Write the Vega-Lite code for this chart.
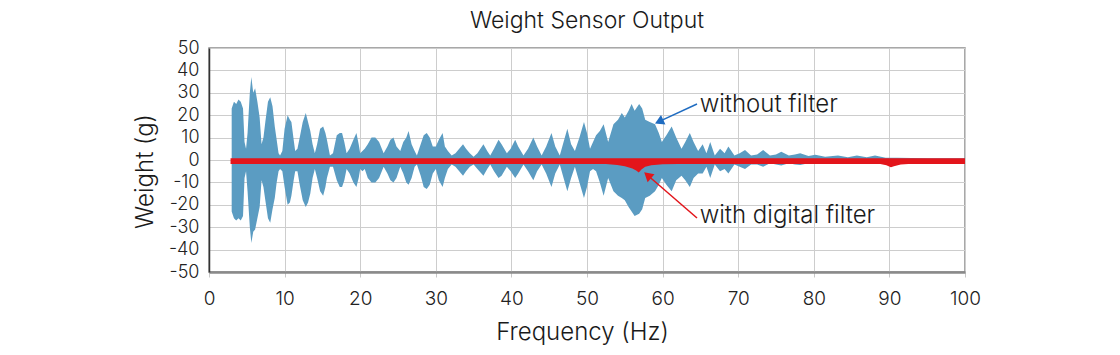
{
  "$schema": "https://vega.github.io/schema/vega-lite/v6.json",
  "width": 756,
  "height": 224,
  "autosize": "none",
  "padding": {"left": 209, "top": 48, "right": 155, "bottom": 83},
  "background": "white",
  "title": {"text": "Weight Sensor Output", "fontSize": 23, "font": "Inter", "fontWeight": 300, "color": "#1a1a1a", "offset": 6, "anchor": "middle"},
  "config": {
    "view": {"stroke": "#8c8c8c", "strokeWidth": 1.5},
    "font": "Inter",
    "axis": {"labelFont": "Inter", "titleFont": "Inter", "labelFontWeight": 300, "titleFontWeight": 300, "labelColor": "#222", "titleColor": "#1a1a1a", "gridColor": "#cdcdcd", "gridWidth": 1, "labelOverlap": false}
  },
  "datasets": {
    "blue": [
      {"f": 3.0, "v": 23, "v2": -23}, {"f": 3.3, "v": 26, "v2": -26}, {"f": 3.6, "v": 25, "v2": -27}, {"f": 3.9, "v": 27, "v2": -26}, {"f": 4.2, "v": 26, "v2": -27}, {"f": 4.5, "v": 23, "v2": -25}, {"f": 4.7, "v": 8, "v2": -8}, {"f": 4.9, "v": 5, "v2": -5}, {"f": 5.1, "v": 12, "v2": -14}, {"f": 5.4, "v": 30, "v2": -30}, {"f": 5.6, "v": 37, "v2": -37}, {"f": 5.85, "v": 30, "v2": -32}, {"f": 6.1, "v": 32, "v2": -31}, {"f": 6.4, "v": 26, "v2": -26}, {"f": 6.7, "v": 19, "v2": -21}, {"f": 6.95, "v": 7, "v2": -9}, {"f": 7.2, "v": 10, "v2": -12}, {"f": 7.45, "v": 17, "v2": -18}, {"f": 7.8, "v": 26, "v2": -26}, {"f": 8.1, "v": 28, "v2": -28}, {"f": 8.4, "v": 24, "v2": -22}, {"f": 8.7, "v": 15, "v2": -17}, {"f": 8.95, "v": 9, "v2": -10}, {"f": 9.2, "v": 3, "v2": -5}, {"f": 9.4, "v": 2, "v2": -4}, {"f": 9.7, "v": 4, "v2": -5}, {"f": 10.0, "v": 14, "v2": -12}, {"f": 10.4, "v": 20, "v2": -20}, {"f": 10.7, "v": 18, "v2": -19}, {"f": 10.9, "v": 17, "v2": -16}, {"f": 11.2, "v": 9, "v2": -9}, {"f": 11.4, "v": 4, "v2": -5}, {"f": 11.7, "v": 5, "v2": -5}, {"f": 12.0, "v": 10, "v2": -11}, {"f": 12.4, "v": 17, "v2": -18}, {"f": 12.8, "v": 21, "v2": -21}, {"f": 13.1, "v": 17, "v2": -19}, {"f": 13.4, "v": 13, "v2": -15}, {"f": 13.7, "v": 7, "v2": -8}, {"f": 14.0, "v": 3, "v2": -4}, {"f": 14.3, "v": 7, "v2": -8}, {"f": 14.7, "v": 14, "v2": -14}, {"f": 15.1, "v": 15, "v2": -16}, {"f": 15.4, "v": 12, "v2": -12}, {"f": 15.6, "v": 9, "v2": -8}, {"f": 16.0, "v": 2, "v2": -3}, {"f": 16.4, "v": 3, "v2": -3}, {"f": 16.9, "v": 11, "v2": -9}, {"f": 17.3, "v": 12, "v2": -12}, {"f": 17.6, "v": 12, "v2": -12}, {"f": 17.9, "v": 8, "v2": -9}, {"f": 18.2, "v": 3, "v2": -4}, {"f": 18.6, "v": 5, "v2": -6}, {"f": 19.1, "v": 9, "v2": -10}, {"f": 19.5, "v": 12, "v2": -12}, {"f": 19.8, "v": 7, "v2": -8}, {"f": 20.0, "v": 3, "v2": -4}, {"f": 20.3, "v": 4, "v2": -5}, {"f": 20.6, "v": 5, "v2": -4}, {"f": 21.0, "v": 7, "v2": -8}, {"f": 21.5, "v": 10, "v2": -10}, {"f": 22.0, "v": 10, "v2": -10}, {"f": 22.5, "v": 8, "v2": -8}, {"f": 23.1, "v": 3, "v2": -3}, {"f": 23.6, "v": 6, "v2": -6}, {"f": 24.0, "v": 9, "v2": -9}, {"f": 24.4, "v": 10, "v2": -10}, {"f": 24.8, "v": 6, "v2": -8}, {"f": 25.3, "v": 4, "v2": -3}, {"f": 25.7, "v": 8, "v2": -6}, {"f": 26.1, "v": 10, "v2": -10}, {"f": 26.4, "v": 13, "v2": -11}, {"f": 26.8, "v": 7, "v2": -8}, {"f": 27.2, "v": 4, "v2": -3}, {"f": 27.5, "v": 2, "v2": -2}, {"f": 28.0, "v": 7, "v2": -7}, {"f": 28.4, "v": 11, "v2": -12}, {"f": 28.8, "v": 12, "v2": -13}, {"f": 29.2, "v": 10, "v2": -11}, {"f": 29.6, "v": 6, "v2": -6}, {"f": 30.0, "v": 6, "v2": -4}, {"f": 30.4, "v": 9, "v2": -9}, {"f": 30.9, "v": 12, "v2": -12}, {"f": 31.2, "v": 6, "v2": -8}, {"f": 31.6, "v": 4, "v2": -4}, {"f": 32.1, "v": 2, "v2": -2}, {"f": 32.6, "v": 3, "v2": -3}, {"f": 33.1, "v": 5, "v2": -5}, {"f": 33.6, "v": 7, "v2": -7}, {"f": 34.0, "v": 5, "v2": -5}, {"f": 34.5, "v": 3, "v2": -3}, {"f": 35.0, "v": 1.5, "v2": -2}, {"f": 35.5, "v": 3, "v2": -4}, {"f": 36.3, "v": 7, "v2": -7}, {"f": 36.8, "v": 4, "v2": -4}, {"f": 37.2, "v": 2, "v2": -2}, {"f": 37.7, "v": 5, "v2": -5}, {"f": 38.3, "v": 9, "v2": -8}, {"f": 38.7, "v": 7, "v2": -7}, {"f": 39.4, "v": 3, "v2": -3}, {"f": 39.9, "v": 5, "v2": -5}, {"f": 40.5, "v": 9, "v2": -8}, {"f": 40.9, "v": 6, "v2": -6}, {"f": 41.6, "v": 2, "v2": -2}, {"f": 42.2, "v": 5, "v2": -5}, {"f": 42.9, "v": 10, "v2": -9}, {"f": 43.4, "v": 6, "v2": -5}, {"f": 44.0, "v": 2, "v2": -2}, {"f": 44.6, "v": 6, "v2": -6}, {"f": 45.3, "v": 12, "v2": -12}, {"f": 45.8, "v": 6, "v2": -6}, {"f": 46.4, "v": 2, "v2": -2}, {"f": 46.9, "v": 8, "v2": -8}, {"f": 47.4, "v": 14, "v2": -14}, {"f": 47.9, "v": 7, "v2": -8}, {"f": 48.4, "v": 4, "v2": -3}, {"f": 49.0, "v": 10, "v2": -10}, {"f": 49.6, "v": 17, "v2": -17}, {"f": 50.0, "v": 12, "v2": -12}, {"f": 50.4, "v": 5, "v2": -5}, {"f": 50.8, "v": 8, "v2": -4}, {"f": 51.2, "v": 11, "v2": -5}, {"f": 51.7, "v": 13, "v2": -10}, {"f": 52.2, "v": 16, "v2": -16}, {"f": 52.8, "v": 8, "v2": -8}, {"f": 53.5, "v": 16, "v2": -14}, {"f": 54.1, "v": 18, "v2": -16}, {"f": 54.6, "v": 21, "v2": -17}, {"f": 55.0, "v": 19, "v2": -18}, {"f": 55.5, "v": 22, "v2": -21}, {"f": 55.9, "v": 25, "v2": -23}, {"f": 56.3, "v": 22, "v2": -25}, {"f": 56.9, "v": 25, "v2": -24}, {"f": 57.3, "v": 23, "v2": -22}, {"f": 57.7, "v": 18, "v2": -17}, {"f": 58.3, "v": 17, "v2": -16}, {"f": 59.0, "v": 16, "v2": -14}, {"f": 59.5, "v": 12, "v2": -11}, {"f": 59.9, "v": 8, "v2": -8}, {"f": 60.5, "v": 11, "v2": -11}, {"f": 61.2, "v": 15, "v2": -14}, {"f": 61.8, "v": 10, "v2": -9}, {"f": 62.5, "v": 5, "v2": -7}, {"f": 63.0, "v": 8, "v2": -9}, {"f": 63.6, "v": 12, "v2": -12}, {"f": 64.1, "v": 8, "v2": -8}, {"f": 64.7, "v": 4, "v2": -6}, {"f": 65.3, "v": 7, "v2": -6}, {"f": 65.8, "v": 3, "v2": -3}, {"f": 66.3, "v": 8, "v2": -8}, {"f": 66.9, "v": 2, "v2": -2}, {"f": 67.6, "v": 5, "v2": -5}, {"f": 68.2, "v": 3, "v2": -4}, {"f": 68.7, "v": 6, "v2": -6}, {"f": 69.5, "v": 2, "v2": -2}, {"f": 70.2, "v": 3, "v2": -3}, {"f": 70.9, "v": 4.5, "v2": -4}, {"f": 71.7, "v": 2, "v2": -2}, {"f": 72.5, "v": 2.5, "v2": -2}, {"f": 73.3, "v": 4.5, "v2": -3}, {"f": 74.2, "v": 2, "v2": -1.5}, {"f": 75.0, "v": 2.5, "v2": -2}, {"f": 75.7, "v": 3.7, "v2": -2.5}, {"f": 76.7, "v": 2, "v2": -1.5}, {"f": 77.5, "v": 2.5, "v2": -2}, {"f": 78.2, "v": 3, "v2": -2.2}, {"f": 79.3, "v": 1.8, "v2": -1.5}, {"f": 80.2, "v": 2.3, "v2": -1.5}, {"f": 81.5, "v": 1.5, "v2": -1.2}, {"f": 83.2, "v": 2, "v2": -1.5}, {"f": 84.5, "v": 1.2, "v2": -1}, {"f": 85.7, "v": 2, "v2": -1.5}, {"f": 87.0, "v": 1.2, "v2": -1}, {"f": 88.1, "v": 2, "v2": -1.5}, {"f": 89.5, "v": 1, "v2": -1}, {"f": 91, "v": 1, "v2": -1}, {"f": 95, "v": 0.8, "v2": -0.8}, {"f": 100, "v": 0.8, "v2": -0.8}
    ],
    "red": [
      {"f": 2.85, "v": 0.8, "v2": -1.8}, {"f": 52.5, "v": 0.8, "v2": -1.8}, {"f": 54, "v": 0.8, "v2": -2.2}, {"f": 55, "v": 0.8, "v2": -2.8}, {"f": 56, "v": 0.8, "v2": -3.8}, {"f": 56.5, "v": 0.8, "v2": -4.7}, {"f": 56.85, "v": 0.8, "v2": -5.6}, {"f": 57.2, "v": 0.8, "v2": -4.2}, {"f": 57.7, "v": 0.8, "v2": -3.0}, {"f": 58.5, "v": 0.8, "v2": -2.3}, {"f": 60, "v": 0.8, "v2": -1.9}, {"f": 62, "v": 0.8, "v2": -1.8}, {"f": 88.8, "v": 0.8, "v2": -1.8}, {"f": 89.6, "v": 0.8, "v2": -2.3}, {"f": 90.2, "v": 0.8, "v2": -3.2}, {"f": 90.6, "v": 0.8, "v2": -2.8}, {"f": 91.5, "v": 0.8, "v2": -2.0}, {"f": 92.5, "v": 0.8, "v2": -1.8}, {"f": 100, "v": 0.8, "v2": -1.8}
    ],
    "arrows": [
      {"series": "without filter", "f": 64.55, "v": 25.0, "f2": 59.72, "v2": 17.45},
      {"series": "with digital filter", "f": 64.55, "v": -25.9, "f2": 58.17, "v2": -7.28}
    ],
    "heads": [
      {"series": "without filter", "f": 59.72, "v": 17.45},
      {"series": "with digital filter", "f": 58.17, "v": -7.28}
    ],
    "labels": [
      {"label": "without filter", "f": 64.9, "v": 21.4},
      {"label": "with digital filter", "f": 64.9, "v": -28.1}
    ]
  },
  "encoding": {
    "x": {"field": "f", "type": "quantitative", "scale": {"domain": [0, 100], "nice": false},
      "axis": {"values": [0, 10, 20, 30, 40, 50, 60, 70, 80, 90, 100], "title": "Frequency (Hz)", "titleFontSize": 24, "labelFontSize": 19, "labelPadding": 12, "tickSize": 5, "tickColor": "#c8c8c8", "tickWidth": 1, "domainColor": "#8a8a8a", "domainWidth": 2.5, "titleX": 373, "titleY": 67, "titleBaseline": "alphabetic", "titleAlign": "center", "labelFlush": false, "labelOverlap": false}},
    "y": {"field": "v", "type": "quantitative", "scale": {"domain": [-50, 50], "nice": false},
      "axis": {"values": [-50, -40, -30, -20, -10, 0, 10, 20, 30, 40, 50], "labelExpr": "datum.value + ''", "title": "Weight (g)", "titleFontSize": 24, "labelFontSize": 18, "labelPadding": 10, "ticks": false, "domainColor": "#333", "domainWidth": 1.5, "titleAngle": 270, "titleX": -57, "titleY": 123, "titleBaseline": "alphabetic", "titleAlign": "center", "labelFlush": false, "labelOverlap": false, "labelSeparation": 0}}
  },
  "layer": [
    {
      "data": {"name": "blue"},
      "mark": {"type": "area", "color": "#5b9cc2", "opacity": 1},
      "encoding": {"y2": {"field": "v2"}}
    },
    {
      "data": {"name": "red"},
      "mark": {"type": "area", "color": "#e3151b"},
      "encoding": {"y2": {"field": "v2"}}
    },
    {
      "data": {"name": "arrows"},
      "mark": {"type": "rule", "strokeWidth": 1.5},
      "encoding": {
        "x2": {"field": "f2"},
        "y2": {"field": "v2"},
        "color": {"field": "series", "type": "nominal", "scale": {"domain": ["without filter", "with digital filter"], "range": ["#1f6cc1", "#e3151b"]}, "legend": null}
      }
    },
    {
      "data": {"name": "heads"},
      "transform": [{"filter": "datum.series == 'without filter'"}],
      "mark": {"type": "point", "shape": "triangle", "filled": true, "size": 110, "angle": 245, "color": "#1f6cc1", "opacity": 1},
      "encoding": {}
    },
    {
      "data": {"name": "heads"},
      "transform": [{"filter": "datum.series == 'with digital filter'"}],
      "mark": {"type": "point", "shape": "triangle", "filled": true, "size": 110, "angle": 311, "color": "#e3151b", "opacity": 1},
      "encoding": {}
    },
    {
      "data": {"name": "labels"},
      "mark": {"type": "text", "align": "left", "baseline": "alphabetic", "fontSize": 24, "font": "Inter", "fontWeight": 300, "color": "#1a1a1a"},
      "encoding": {"text": {"field": "label", "type": "nominal"}}
    }
  ]
}
